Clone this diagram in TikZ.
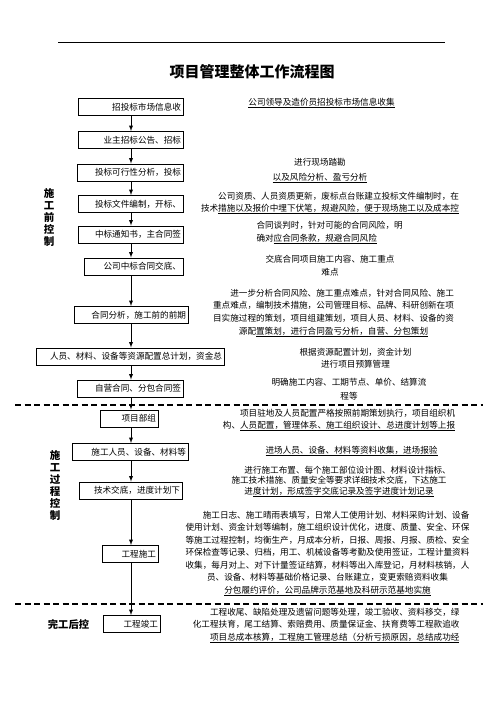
\documentclass[tikz,border=0pt]{standalone}
\usepackage{fontspec}
\setmainfont{Noto Sans CJK SC}
\usetikzlibrary{arrows}
\newcommand{\hd}{\fontsize{8.6}{12.5}\selectfont}

\begin{document}
\begin{tikzpicture}[x=1pt,y=-1pt,
  stage/.style={draw,line width=0.9pt,text width=#1,align=right,inner xsep=2.5pt,inner ysep=0pt,minimum height=17pt,font=\hd},
  note/.style={align=center,font=\hd},
  flow/.style={-latex,line width=0.9pt},
  part/.style={line width=1.3pt,dash pattern=on 6pt off 3.5pt},
  phase/.style={align=center,font=\fontsize{10.5}{12}\selectfont\bfseries}]
\useasboundingbox (0,0) rectangle (496,702);
\draw[line width=0.8pt] (58,42) -- (445,42);
\node[font=\fontsize{15}{18}\selectfont\bfseries] (title) at (252,72) {项目管理整体工作流程图};

% flow boxes
\node[stage=100pt] (b1)  at (131,107)   {招投标市场信息收\hspace*{8pt}};
\node[stage=100pt] (b2)  at (131,140)   {业主招标公告、招标\hspace*{5pt}};
\node[stage=101pt] (b3)  at (130.5,172.5) {投标可行性分析，投标};
\node[stage=100pt] (b4)  at (131,204)   {投标文件编制，开标、};
\node[stage=100pt] (b5)  at (131,234.5) {中标通知书，主合同签};
\node[stage=94pt]  (b6)  at (134,266.5) {公司中标合同交底、\hspace*{4pt}};
\node[stage=109pt] (b7)  at (131.5,315) {合同分析，施工前的前期};
\node[stage=183pt] (b8)  at (130.5,356.5) {人员、材料、设备等资源配置总计划，资金总};
\node[stage=101pt] (b9)  at (130.5,388.5) {自营合同、分包合同签};
\node[stage=53pt]  (b10) at (129.5,418.5) {项目部组};
\node[stage=111pt] (b11) at (130.5,452)   {施工人员、设备、材料等};
\node[stage=98pt]  (b12) at (131,490.5)   {技术交底，进度计划下};
\node[stage=51pt]  (b13) at (130.5,554)   {工程施工};
\node[stage=52pt]  (b14) at (132,624)     {工程竣工};
\coordinate (spine) at (131,0);
\foreach \a/\b in {b1/b2,b2/b3,b3/b4,b4/b5,b5/b6,b6/b7,b7/b8,b8/b9,b9/b10,b10/b11,b11/b12,b12/b13,b13/b14}
  \draw[flow] (\a.south -| spine) -- (\b.north -| spine);

\draw[part] (15,405) -- (483,405);
\draw[part] (15,604) -- (483,604);

\node[phase] (pre)  at (49,217) {施\\工\\前\\控\\制};
\node[phase] (mid)  at (55,485) {施\\工\\过\\程\\控\\制};
\node[phase,font=\fontsize{10.3}{12}\selectfont\bfseries] (post) at (68.5,625) {完工后控};

% notes on the right
\node[note] (r1) at (321.5,103) {\underline{公司领导及造价员招投标市场信息收集}};
\node[note,font=\fontsize{8.6}{15}\selectfont] (r2) at (320,170.5) {进行现场踏勘\\\underline{以及风险分析、盈亏分析}};
\node[note,font=\fontsize{8.6}{12}\selectfont] (r3) at (330,203) {\hspace*{2em}公司资质、人员资质更新，废标点台账建立投标文件编制时，在\\技术\underline{措施以及报价中埋下伏笔，规避风险，便于现场施工以及成本控}};
\node[note,align=left,anchor=west,font=\fontsize{8.6}{13}\selectfont] (r4) at (253,232.5) {合同谈判时，针对可能的合同风险，明\\确对\underline{应合同条款，规避合同风险}};
\node[note,font=\fontsize{8.6}{13}\selectfont] (r5) at (330,265.5) {交底合同项目施工内容、施工重点\\难点};
\node[note,font=\fontsize{8.6}{12.7}\selectfont] (r6) at (333.5,313) {\hspace*{2em}进一步分析合同风险、施工重点难点，针对合同风险、施工\\重点难点，编制技术措施，公司管理目标、品牌、科研创新在项\\目实施过程的策划，项目组建策划，项目人员、材料、设备的资\\源配\underline{置策划，进行合同盈亏分析，自营、分包策划}};
\node[note,font=\fontsize{8.6}{12}\selectfont] (r7) at (355.5,358) {根据资源配置计划，资金计划\\进行项目预算管理};
\node[note,font=\fontsize{8.6}{14}\selectfont] (r8) at (349,389) {明确施工内容、工期节点、单价、结算流\\程等};
\node[note,font=\fontsize{8.6}{12}\selectfont] (r9) at (339,420) {\hspace*{2em}项目驻地及人员配置严格按照前期策划执行，项目组织机\\构、\underline{人员配置，管理体系、施工组织设计、总进度计划等上报}};
\node[note] (r10) at (351.5,451) {\underline{进场人员、设备、材料等资料收集，进场报验}};
\node[note,font=\fontsize{8.6}{10.5}\selectfont] (r11) at (339,481.5) {\hspace*{2em}进行施工布置、每个施工部位设计图、材料设计指标、\\施工技术措施、质量安全等要求详细技术交底，下达施工\\进\underline{度计划，形成签字交底记录及签字进度计划记录}};
\node[note] (r12) at (327.5,553.5) {\hspace*{2em}施工日志、施工晴雨表填写，日常人工使用计划、材料采购计划、设备\\使用计划、资金计划等编制，施工组织设计优化，进度、质量、安全、环保\\等施工过程控制，均衡生产，月成本分析，日报、周报、月报、质检、安全\\环保检查等记录、归档，用工、机械设备等考勤及使用签证，工程计量资料\\收集，每月对上、对下计量签证结算，材料等出入库登记，月材料核销，人\\员、设备、材料等基础价格记录、台账建立，变更索赔资料收集\\\underline{分包履约评价，公司品牌示范基地及科研示范基地实施}};
\node[note,align=right,anchor=east] (r13) at (463,625.5) {工程收尾、缺陷处理及遗留问题等处理，竣工验收、资料移交，绿\\化工程扶育，尾工结算、索赔费用、质量保证金、扶育费等工程款追收\\\underline{项目总成本核算，工程施工管理总结（分析亏损原因，总结成功经}};
\end{tikzpicture}
\end{document}
